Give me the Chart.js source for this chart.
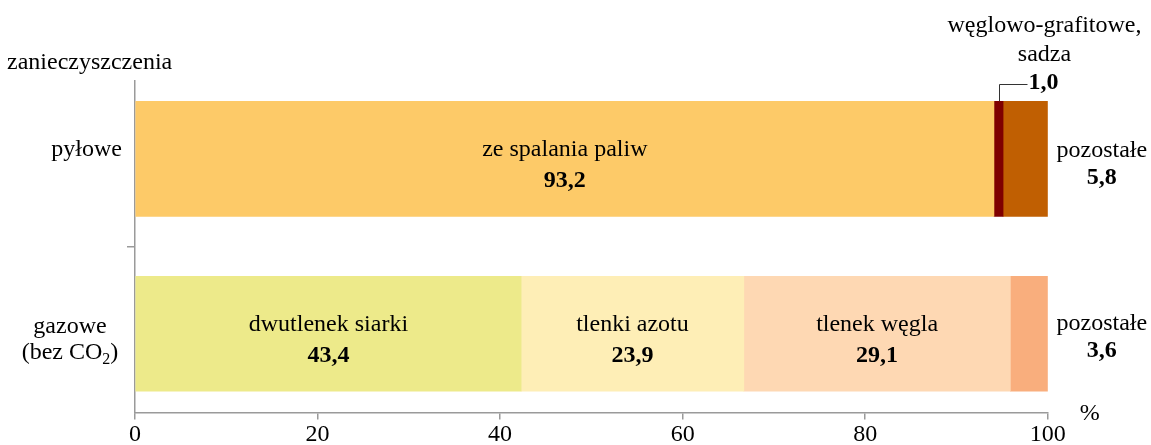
<!DOCTYPE html>
<html><head><meta charset="utf-8">
<script src="https://cdn.jsdelivr.net/npm/chart.js@4"></script>
<style>html,body{margin:0;padding:0;background:#fff;overflow:hidden}#wrap{width:1151px;height:445px;position:relative}canvas{display:block}</style>
</head><body><div id="wrap"><canvas id="c" width="1151" height="445"></canvas></div>
<script>
// ---- data ----
const categories = ['pyłowe', 'gazowe (bez CO₂)'];
const dustSegments = ['ze spalania paliw', 'węglowo-grafitowe, sadza', 'pozostałe'];
const dustValues = [94.1, 1.0, 4.9];
const dustLabels = ['93,2', '1,0', '5,8'];
const gasSegments = ['dwutlenek siarki', 'tlenki azotu', 'tlenek węgla', 'pozostałe'];
const gasValues = [42.3, 24.4, 29.2, 4.1];
const gasLabels = ['43,4', '23,9', '29,1', '3,6'];
const xTicks = [0, 20, 40, 60, 80, 100];
const yTitle = 'zanieczyszczenia';
const unitLabel = '%';

// ---- styles ----
const dustColors = ['#FDCA68', '#7F0000', '#C05F02'];
const gasColors = ['#EDEA8A', '#FEEEB6', '#FED8B3', '#F9AE7D'];
const FAMILY = '"Liberation Serif", "Times New Roman", serif';
const AXIS = '#9a9a9a';

const datasets = [];
dustValues.forEach((v, i) => datasets.push({ label: dustSegments[i], data: [{ x: v, y: 0 }], backgroundColor: dustColors[i], group: 'dust', idx: i, stack: 's' }));
gasValues.forEach((v, i) => datasets.push({ label: gasSegments[i], data: [{ x: v, y: 1 }], backgroundColor: gasColors[i], group: 'gas', idx: i, stack: 's' }));

const labelPlugin = {
  id: 'labels',
  afterDraw(chart) {
    const ctx = chart.ctx, ca = chart.chartArea, ys = chart.scales.y;
    const F = '24px ' + FAMILY, FB = 'bold 24px ' + FAMILY;
    ctx.save();
    ctx.fillStyle = '#000';
    ctx.textBaseline = 'alphabetic';
    chart.data.datasets.forEach((ds, di) => {
      const el = chart.getDatasetMeta(di).data[0];
      const cx = (el.x + el.base) / 2, cy = el.y;
      const segs = ds.group === 'dust' ? dustSegments : gasSegments;
      const labs = ds.group === 'dust' ? dustLabels : gasLabels;
      const name = segs[ds.idx], num = labs[ds.idx];
      if (ds.idx === segs.length - 1) {
        ctx.textAlign = 'center';
        const rx = ca.right + 54;
        const off = ds.group === 'dust' ? -2 : -4;
        ctx.font = F; ctx.fillText(name, rx, cy + off);
        ctx.font = FB; ctx.fillText(num, rx, cy + off + 27);
      } else if (ds.group === 'dust' && ds.idx === 1) {
        const lx = Math.round(cx) + 0.5;
        const top = cy - 57.5;
        ctx.strokeStyle = '#333'; ctx.lineWidth = 1;
        ctx.beginPath();
        ctx.moveTo(lx, top); ctx.lineTo(lx, 84.5); ctx.lineTo(lx + 28, 84.5);
        ctx.stroke();
        ctx.textAlign = 'center';
        ctx.font = F;
        const parts = name.split(', ');
        ctx.fillText(parts[0] + ',', lx + 45, top - 69);
        ctx.fillText(parts[1], lx + 45, top - 40);
        ctx.textAlign = 'left';
        ctx.font = FB; ctx.fillText(num, lx + 29, top - 12);
      } else {
        ctx.textAlign = 'center';
        ctx.font = F; ctx.fillText(name, cx, cy - 3);
        ctx.font = FB; ctx.fillText(num, cx, cy + 28);
      }
    });
    // category labels
    const y0 = ys.getPixelForValue(0), y1 = ys.getPixelForValue(1);
    ctx.font = F;
    ctx.textAlign = 'right';
    ctx.fillText(categories[0], ca.left - 13, y0 - 3);
    const catParts = categories[1].split(' (');
    const gx = ca.left - 65;
    ctx.textAlign = 'center';
    ctx.fillText(catParts[0], gx, y1 - 1);
    const inner = '(' + catParts[1].replace('₂)', '');
    ctx.textAlign = 'left';
    const w1 = ctx.measureText(inner).width;
    ctx.font = '16px ' + FAMILY;
    const w2 = ctx.measureText('2').width;
    ctx.font = F;
    const w3 = ctx.measureText(')').width;
    let sx = gx - (w1 + w2 + w3) / 2;
    const by = y1 + 25;
    ctx.fillText(inner, sx, by);
    ctx.font = '16px ' + FAMILY; ctx.fillText('2', sx + w1, by + 5);
    ctx.font = F; ctx.fillText(')', sx + w1 + w2, by);
    ctx.textAlign = 'left';
    ctx.fillText(yTitle, 7, 69);
    ctx.textAlign = 'center';
    ctx.fillText(unitLabel, ca.right + 42, 420);
    ctx.restore();
  }
};

new Chart(document.getElementById('c'), {
  type: 'bar',
  data: { datasets },
  plugins: [labelPlugin],
  options: {
    indexAxis: 'y',
    responsive: false,
    animation: false,
    events: [],
    layout: { padding: { left: 127, right: 103.2, top: 81, bottom: 0 } },
    plugins: { legend: { display: false }, tooltip: { enabled: false } },
    datasets: { bar: { barThickness: 115, borderWidth: 0 } },
    scales: {
      x: {
        type: 'linear', min: 0, max: 100, stacked: true,
        afterBuildTicks: s => { s.ticks = xTicks.map(v => ({ value: v })); },
        afterFit: s => { s.height = 32.5; },
        ticks: { font: { family: FAMILY, size: 24 }, color: '#000', padding: 1, maxRotation: 0, autoSkip: false },
        grid: { drawOnChartArea: false, drawTicks: true, tickLength: 7, color: AXIS, lineWidth: 1.5 },
        border: { color: AXIS, width: 1.5 }
      },
      y: {
        type: 'linear', min: -0.445, max: 1.45, reverse: true, offset: false, grace: 0, bounds: 'data',
        afterBuildTicks: s => { s.ticks = [{ value: 0.5 }]; },
        afterFit: s => { s.width = 8; },
        ticks: { display: false },
        grid: { drawOnChartArea: false, drawTicks: true, offset: false, tickLength: 8, color: AXIS, lineWidth: 1.5 },
        border: { color: AXIS, width: 1.5 }
      }
    }
  }
});
</script>
</body></html>
